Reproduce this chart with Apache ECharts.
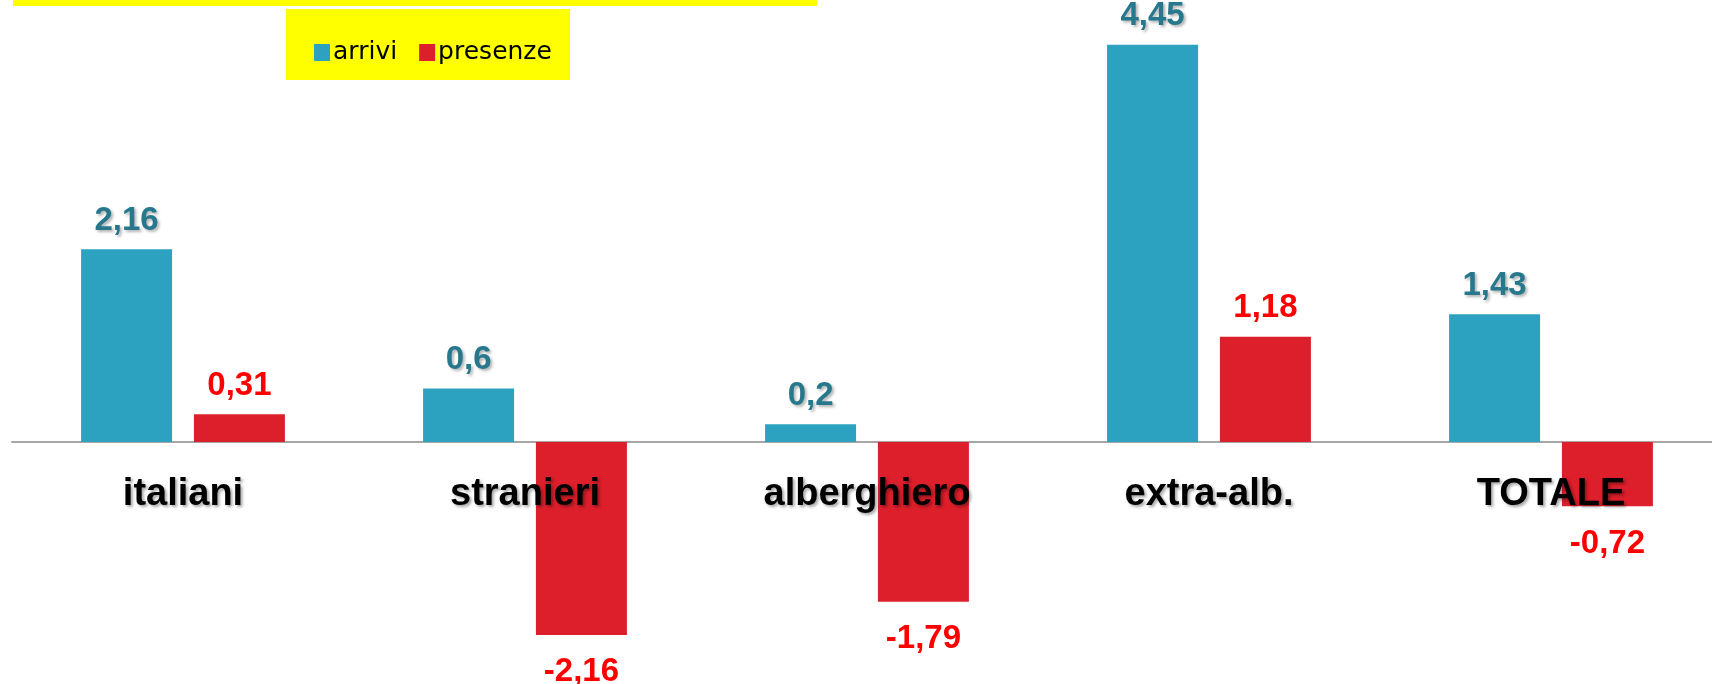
<!DOCTYPE html>
<html>
<head>
<meta charset="utf-8">
<script src="https://cdn.jsdelivr.net/npm/echarts@6/dist/echarts.min.js"></script>
<style>
  html, body { margin: 0; padding: 0; background: #ffffff; }
  #main { width: 1712px; height: 684px; }
</style>
</head>
<body>
<div id="main"></div>
<script>
var categories = ['italiani', 'stranieri', 'alberghiero', 'extra-alb.', 'TOTALE'];
var arrivi = [2.16, 0.6, 0.2, 4.45, 1.43];
var presenze = [0.31, -2.16, -1.79, 1.18, -0.72];

var labelFont = 'Liberation Sans';

// etichette sopra le barre positive, sotto quelle negative
function toItems(arr) {
	return arr.map(function (v) {
		return {
			value: v,
			label: v < 0 ? { position: 'bottom', distance: 21 } : { position: 'top', distance: 12 }
		};
	});
}
function comma(p) {
	return String(p.value).replace('.', ',');
}

var myChart = echarts.init(document.getElementById('main'));
option = {
	backgroundColor: '#ffffff',
	animation: false,
	graphic: [{
		type: 'rect',
		shape: { x: 13, y: 0, width: 804, height: 6 },
		style: { fill: '#ffff00' },
		z: -1
	}, {
		type: 'rect',
		shape: { x: 286, y: 9, width: 284, height: 71 },
		style: { fill: '#ffff00' },
		z: -1
	}],
	legend: {
		left: 309,
		top: 35,
		itemWidth: 16,
		itemHeight: 17,
		itemGap: 22,
		icon: 'rect',
		textStyle: {
			color: '#000000',
			fontSize: 25,
			fontFamily: 'DejaVu Sans',
			padding: [0, 0, 0, -2]
		},
		data: ['arrivi', 'presenze']
	},
	grid: [{
		// barre
		left: 12,
		right: -10,
		top: 0,
		bottom: 0,
		containLabel: false,
		outerBoundsMode: 'none'
	}, {
		// etichette categorie, bordo inferiore sullo zero
		left: 12,
		right: -10,
		top: 0,
		height: 442,
		containLabel: false,
		outerBoundsMode: 'none'
	}],
	xAxis: [{
		type: 'category',
		gridIndex: 0,
		data: categories,
		axisTick: { show: false },
		axisLabel: { show: false },
		axisLine: {
			onZero: true,
			lineStyle: { color: '#a6a6a6', width: 2 }
		}
	}, {
		type: 'category',
		gridIndex: 1,
		data: categories,
		z: 5,
		axisTick: { show: false },
		axisLine: { show: false },
		axisLabel: {
			margin: 34,
			color: '#000000',
			fontSize: 38,
			fontWeight: 'bold',
			fontFamily: labelFont,
			textShadowColor: 'rgba(0,0,0,0.35)',
			textShadowBlur: 3,
			textShadowOffsetX: 2,
			textShadowOffsetY: 2
		}
	}],
	yAxis: [{
		type: 'value',
		gridIndex: 0,
		min: -2.71,
		max: 4.95,
		show: false,
		splitLine: { show: false }
	}, {
		type: 'value',
		gridIndex: 1,
		min: 0,
		max: 1,
		show: false,
		splitLine: { show: false }
	}],
	series: [{
		name: 'arrivi',
		type: 'bar',
		barWidth: 91,
		barGap: '24%',
		itemStyle: { color: '#2ca2c0' },
		label: {
			show: true,
			color: '#27788c',
			fontSize: 33,
			fontWeight: 'bold',
			fontFamily: labelFont,
			textShadowColor: 'rgba(0,0,0,0.3)',
			textShadowBlur: 3,
			textShadowOffsetX: 2,
			textShadowOffsetY: 2,
			formatter: comma
		},
		data: toItems(arrivi)
	}, {
		name: 'presenze',
		type: 'bar',
		barWidth: 91,
		itemStyle: { color: '#dc1f2a' },
		label: {
			show: true,
			color: '#ff0000',
			fontSize: 33,
			fontWeight: 'bold',
			fontFamily: labelFont,
			formatter: comma
		},
		data: toItems(presenze)
	}]
};

myChart.setOption(option);
</script>
</body>
</html>
